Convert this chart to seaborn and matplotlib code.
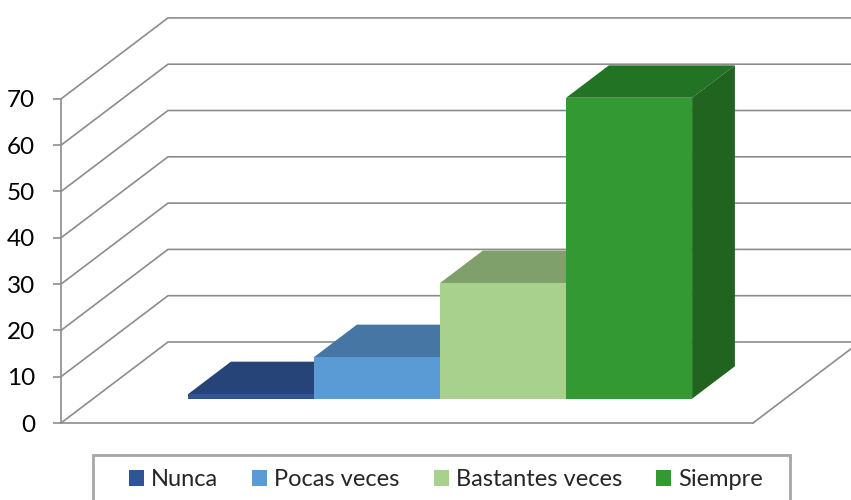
import numpy as np
import pandas as pd
import matplotlib
matplotlib.use("Agg")
import matplotlib.pyplot as plt
import seaborn as sns
from matplotlib.patches import Polygon, Rectangle, Patch
from matplotlib.transforms import Affine2D

# ---- data ----
categories = ["Nunca", "Pocas veces", "Bastantes veces", "Siempre"]
values = [1, 9, 25, 65]
yticks = [0, 10, 20, 30, 40, 50, 60, 70]

# ---- styles ----
front_colors = ["#2F5597", "#5B9BD5", "#A9D18E", "#339933"]
top_colors = ["#264478", "#4677A4", "#7F9F6B", "#237325"]
side_colors = ["#1F3864", "#3E6A93", "#6F8C5D", "#206420"]
grid_color = "#8C8C8C"

sns.set_theme(style="white")
plt.rcParams["font.family"] = ["Lato", "DejaVu Sans"]

W, H = 851, 500
fig = plt.figure(figsize=(W / 100, H / 100), dpi=100)
ax = fig.add_axes([0, 0, 1, 1])

df = pd.DataFrame({"cat": categories, "val": values})
sns.barplot(data=df, x="cat", y="val", hue="cat", palette=front_colors,
            width=1.0, saturation=1, legend=False, ax=ax, zorder=3)

# ---- layout of the oblique 3D projection ----
px_per_cat = 126.0
px_per_val = 4.63
x0_px = 219.0
y0_px = 423.0
ax.set_xlim(-x0_px / px_per_cat, (W - x0_px) / px_per_cat)
ax.set_ylim((y0_px - H) / px_per_val, y0_px / px_per_val)

dx = 107.0 / px_per_cat
dy = 81.0 / px_per_val
floor_left = (61 - x0_px) / px_per_cat
floor_right = (753 - x0_px) / px_per_cat
far_right = floor_right + dx

# walls: gridlines on left wall + back wall
lw = 1.2
for v in yticks:
    ax.plot([floor_left, floor_left + dx, far_right], [v, v + dy, v + dy],
            color=grid_color, lw=lw, zorder=1, solid_capstyle="butt",
            clip_on=True)
# floor right edge
ax.plot([floor_right, floor_right + dx], [0, dy], color=grid_color, lw=lw, zorder=1)

# ---- 3D bars ----
f0, bd = 0.3, 0.4
shift = Affine2D().translate(f0 * dx, f0 * dy)
for p in list(ax.patches):
    i = int(round(p.get_x() + p.get_width() / 2))
    p.set_transform(shift + ax.transData)
    p.set_zorder(3 + i * 0.1 + 0.05)
    p.set_edgecolor("none")
    xl = p.get_x() + f0 * dx
    xr = xl + p.get_width()
    yb = f0 * dy
    yt = p.get_height() + f0 * dy
    top = Polygon([(xl, yt), (xr, yt), (xr + bd * dx, yt + bd * dy), (xl + bd * dx, yt + bd * dy)],
                  closed=True, facecolor=top_colors[i], edgecolor="none", zorder=3 + i * 0.1)
    side = Polygon([(xr, yb), (xr + bd * dx, yb + bd * dy), (xr + bd * dx, yt + bd * dy), (xr, yt)],
                   closed=True, facecolor=side_colors[i], edgecolor="none", zorder=3 + i * 0.1)
    ax.add_patch(top)
    ax.add_patch(side)

# ---- axes ----
for s in ["top", "right"]:
    ax.spines[s].set_visible(False)
ax.spines["left"].set_position(("data", floor_left))
ax.spines["left"].set_bounds(0, yticks[-1])
ax.spines["left"].set_color(grid_color)
ax.spines["left"].set_linewidth(lw)
ax.spines["bottom"].set_position(("data", 0))
ax.spines["bottom"].set_bounds(floor_left, floor_right)
ax.spines["bottom"].set_color(grid_color)
ax.spines["bottom"].set_linewidth(lw)
ax.set_xticks([])
ax.set_yticks(yticks)
ax.set_yticklabels([str(v) for v in yticks])
ax.tick_params(axis="y", direction="out", length=5.8, width=lw, color=grid_color,
               pad=13, labelsize=17.5, labelcolor="black", left=True)
ax.set_xlabel("")
ax.set_ylabel("")
ax.patch.set_alpha(0)

# ---- legend ----
handles = [Patch(facecolor=c, edgecolor="none") for c in front_colors]
fig.legend(handles, categories, loc="center", bbox_to_anchor=(446 / W, 1 - 480 / H),
           ncol=4, frameon=False, handlelength=0.64, handleheight=0.64,
           handletextpad=0.3, columnspacing=1.44, fontsize=17)
fig.patches.append(Rectangle((93 / W, -6 / H), 697 / W, 51 / H, transform=fig.transFigure,
                             facecolor="none", edgecolor="#A6A6A6", linewidth=2.0))

fig.savefig("out.png", dpi=100)
